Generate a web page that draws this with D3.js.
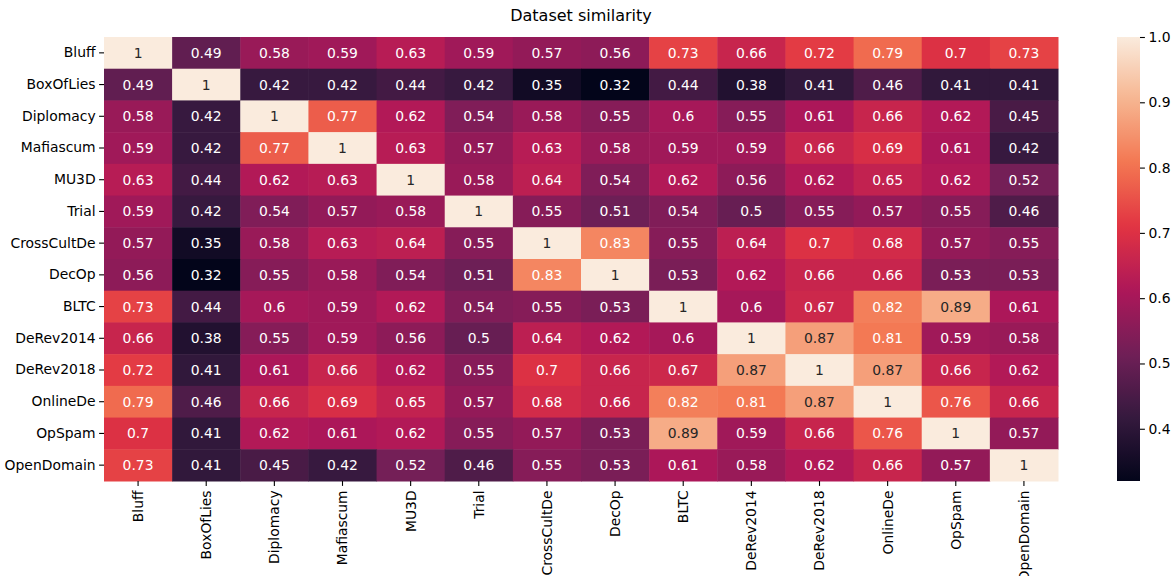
<!DOCTYPE html>
<html>
<head>
<meta charset="utf-8">
<script src="https://cdn.jsdelivr.net/npm/d3@7"></script>
<style>
body{margin:0;background:#fff;}
text{font-family:"DejaVu Sans",sans-serif;}
</style>
</head>
<body>
<div class="chart"></div>
<script>
var width = 1175,
	height = 576;

// dataset names (rows and columns are the same)
var datasets = ["Bluff","BoxOfLies","Diplomacy","Mafiascum","MU3D","Trial","CrossCultDe","DecOp","BLTC","DeRev2014","DeRev2018","OnlineDe","OpSpam","OpenDomain"];

// similarity matrix, one row per dataset
var rowBluff       = [1, 0.49, 0.58, 0.59, 0.63, 0.59, 0.57, 0.56, 0.73, 0.66, 0.72, 0.79, 0.7, 0.73];
var rowBoxOfLies   = [0.49, 1, 0.42, 0.42, 0.44, 0.42, 0.35, 0.32, 0.44, 0.38, 0.41, 0.46, 0.41, 0.41];
var rowDiplomacy   = [0.58, 0.42, 1, 0.77, 0.62, 0.54, 0.58, 0.55, 0.6, 0.55, 0.61, 0.66, 0.62, 0.45];
var rowMafiascum   = [0.59, 0.42, 0.77, 1, 0.63, 0.57, 0.63, 0.58, 0.59, 0.59, 0.66, 0.69, 0.61, 0.42];
var rowMU3D        = [0.63, 0.44, 0.62, 0.63, 1, 0.58, 0.64, 0.54, 0.62, 0.56, 0.62, 0.65, 0.62, 0.52];
var rowTrial       = [0.59, 0.42, 0.54, 0.57, 0.58, 1, 0.55, 0.51, 0.54, 0.5, 0.55, 0.57, 0.55, 0.46];
var rowCrossCultDe = [0.57, 0.35, 0.58, 0.63, 0.64, 0.55, 1, 0.83, 0.55, 0.64, 0.7, 0.68, 0.57, 0.55];
var rowDecOp       = [0.56, 0.32, 0.55, 0.58, 0.54, 0.51, 0.83, 1, 0.53, 0.62, 0.66, 0.66, 0.53, 0.53];
var rowBLTC        = [0.73, 0.44, 0.6, 0.59, 0.62, 0.54, 0.55, 0.53, 1, 0.6, 0.67, 0.82, 0.89, 0.61];
var rowDeRev2014   = [0.66, 0.38, 0.55, 0.59, 0.56, 0.5, 0.64, 0.62, 0.6, 1, 0.87, 0.81, 0.59, 0.58];
var rowDeRev2018   = [0.72, 0.41, 0.61, 0.66, 0.62, 0.55, 0.7, 0.66, 0.67, 0.87, 1, 0.87, 0.66, 0.62];
var rowOnlineDe    = [0.79, 0.46, 0.66, 0.69, 0.65, 0.57, 0.68, 0.66, 0.82, 0.81, 0.87, 1, 0.76, 0.66];
var rowOpSpam      = [0.7, 0.41, 0.62, 0.61, 0.62, 0.55, 0.57, 0.53, 0.89, 0.59, 0.66, 0.76, 1, 0.57];
var rowOpenDomain  = [0.73, 0.41, 0.45, 0.42, 0.52, 0.46, 0.55, 0.53, 0.61, 0.58, 0.62, 0.66, 0.57, 1];
var matrix = [rowBluff,rowBoxOfLies,rowDiplomacy,rowMafiascum,rowMU3D,rowTrial,rowCrossCultDe,rowDecOp,rowBLTC,rowDeRev2014,rowDeRev2018,rowOnlineDe,rowOpSpam,rowOpenDomain];

var colorbarTicks = [0.4, 0.5, 0.6, 0.7, 0.8, 0.9, 1.0];

// seaborn "rocket" approximated from a few sample points
var rocketStops = ["#03051a","#35193e","#701f57","#ad1759","#e13342","#f37651","#f6b48f","#faebdd"];
var rocket = d3.scaleLinear()
	.domain(rocketStops.map(function(d,i){return i/(rocketStops.length-1);}))
	.range(rocketStops)
	.interpolate(d3.interpolateRgb)
	.clamp(true);

var vmin = d3.min(matrix, function(r){return d3.min(r);});
var vmax = d3.max(matrix, function(r){return d3.max(r);});
var color = function(v){return rocket((v-vmin)/(vmax-vmin));};

function luminance(c){
	var rgb = d3.rgb(c);
	var lin = [rgb.r, rgb.g, rgb.b].map(function(v){
		v = v/255;
		return v <= 0.03928 ? v/12.92 : Math.pow((v+0.055)/1.055, 2.4);
	});
	return 0.2126*lin[0] + 0.7152*lin[1] + 0.0722*lin[2];
}

var mLeft = 104, mRight = 1058, mTop = 37, mBottom = 481;

var svg = d3.select(".chart").append("svg").attr("width", width).attr("height", height);

var x = d3.scaleBand().domain(datasets).range([mLeft, mRight]);
var y = d3.scaleBand().domain(datasets).range([mTop, mBottom]);

var cells = [];
matrix.forEach(function(row, i){
	row.forEach(function(v, j){
		cells.push({row: datasets[i], col: datasets[j], value: v});
	});
});

svg.append("g").selectAll("rect").data(cells).enter().append("rect")
	.attr("x", function(d){return x(d.col);})
	.attr("y", function(d){return y(d.row);})
	.attr("width", x.bandwidth()+0.5)
	.attr("height", y.bandwidth()+0.5)
	.attr("fill", function(d){return color(d.value);});

svg.append("g").selectAll("text").data(cells).enter().append("text")
	.attr("x", function(d){return x(d.col) + x.bandwidth()/2;})
	.attr("y", function(d){return y(d.row) + y.bandwidth()/2;})
	.attr("text-anchor", "middle")
	.attr("dominant-baseline", "central")
	.attr("font-size", "13.9px")
	.attr("fill", function(d){return luminance(color(d.value)) > 0.408 ? "#262626" : "#ffffff";})
	.text(function(d){return String(d.value);});

// axes
var yAxis = svg.append("g").attr("transform", "translate(" + mLeft + ",0)")
	.call(d3.axisLeft(y).tickSize(4.9).tickPadding(3.5));
var xAxis = svg.append("g").attr("transform", "translate(0," + mBottom + ")")
	.call(d3.axisBottom(x).tickSize(4.9).tickPadding(3.5));
[xAxis, yAxis].forEach(function(a){
	a.select(".domain").remove();
	a.selectAll(".tick line").attr("stroke", "#000").attr("stroke-width", 1.1);
	a.selectAll(".tick text").attr("font-size", "13.9px").attr("fill", "#000").attr("font-family", "DejaVu Sans");
});
xAxis.selectAll(".tick text")
	.attr("transform", "rotate(-90)")
	.attr("text-anchor", "end")
	.attr("x", -9.4)
	.attr("y", 0)
	.attr("dy", "0.35em");

// title
svg.append("text")
	.attr("x", (mLeft+mRight)/2)
	.attr("y", 20.5)
	.attr("text-anchor", "middle")
	.attr("font-size", "16px")
	.attr("fill", "#000")
	.text("Dataset similarity");

// colorbar
var cbX = 1117, cbW = 23;
var cbScale = d3.scaleLinear().domain([vmin, vmax]).range([mBottom, mTop]);
var defs = svg.append("defs");
var grad = defs.append("linearGradient").attr("id", "cbgrad")
	.attr("x1", 0).attr("y1", 1).attr("x2", 0).attr("y2", 0);
grad.selectAll("stop").data(d3.range(0, 1.0001, 0.02)).enter().append("stop")
	.attr("offset", function(d){return d;})
	.attr("stop-color", function(d){return rocket(d);});
svg.append("rect")
	.attr("x", cbX).attr("y", mTop)
	.attr("width", cbW).attr("height", mBottom-mTop)
	.attr("fill", "url(#cbgrad)");
var cbAxis = svg.append("g").attr("transform", "translate(" + (cbX+cbW) + ",0)")
	.call(d3.axisRight(cbScale).tickValues(colorbarTicks).tickFormat(d3.format(".1f")).tickSize(4.9).tickPadding(3.5));
cbAxis.select(".domain").remove();
cbAxis.selectAll(".tick line").attr("stroke", "#000").attr("stroke-width", 1.1);
cbAxis.selectAll(".tick text").attr("font-size", "13.9px").attr("fill", "#000").attr("font-family", "DejaVu Sans");
</script>
</body>
</html>
